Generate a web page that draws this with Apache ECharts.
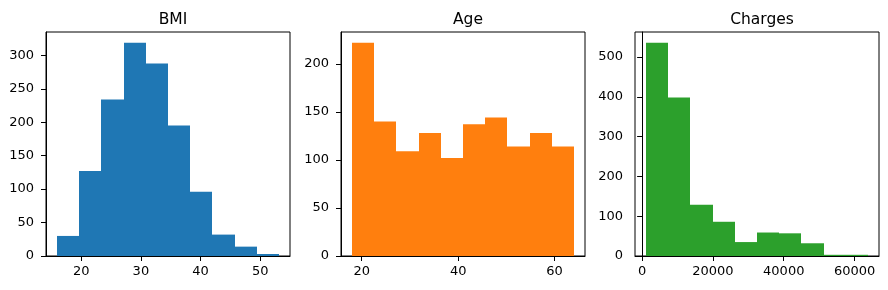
<!DOCTYPE html>
<html>
<head>
<meta charset="utf-8">
<script src="https://cdn.jsdelivr.net/npm/echarts@6/dist/echarts.min.js"></script>
<style>
html,body{margin:0;padding:0;background:#fff;}
#chart{width:888px;height:290px;}
</style>
</head>
<body>
<div id="chart"></div>
<script>
// ---- data ----
const titles = ['BMI', 'Age', 'Charges'];

const bmiEdges = [15.96, 19.677, 23.394, 27.111, 30.828, 34.545, 38.262, 41.979, 45.696, 49.413, 53.13];
const bmiCounts = [30, 127, 234, 319, 288, 195, 96, 32, 14, 3];

const ageEdges = [18, 22.6, 27.2, 31.8, 36.4, 41, 45.6, 50.2, 54.8, 59.4, 64];
const ageCounts = [222, 140, 109, 128, 102, 137, 144, 114, 128, 114];

const chargesEdges = [1121.87, 7386.73, 13651.58, 19916.44, 26181.30, 32446.15, 38711.01, 44975.87, 51240.72, 57505.58, 63770.43];
const chargesCounts = [536, 398, 129, 86, 35, 59, 57, 32, 3, 3];

const bmiXTicks = [20, 30, 40, 50];
const ageXTicks = [20, 40, 60];
const chargesXTicks = [0, 20000, 40000, 60000];

const bmiYTicks = [0, 50, 100, 150, 200, 250, 300];
const ageYTicks = [0, 50, 100, 150, 200];
const chargesYTicks = [0, 100, 200, 300, 400, 500];

const colors = ['#1f77b4', '#ff7f0e', '#2ca02c'];

// ---- build ----
const panels = [
  {edges: bmiEdges, counts: bmiCounts, xt: bmiXTicks, yt: bmiYTicks},
  {edges: ageEdges, counts: ageCounts, xt: ageXTicks, yt: ageYTicks},
  {edges: chargesEdges, counts: chargesCounts, xt: chargesXTicks, yt: chargesYTicks}
];
const gridLefts = [46, 341, 635];
const gridWidth = 244;
const FONT = 'DejaVu Sans';

const grids = [], xAxes = [], yAxes = [], series = [], titleArr = [];
panels.forEach((p, i) => {
  const lo = p.edges[0], hi = p.edges[p.edges.length - 1];
  const span = hi - lo;
  const ymax = Math.max(...p.counts) * 1.05;
  grids.push({left: gridLefts[i], top: 32, width: gridWidth, height: 224,
    show: true, borderColor: '#000', borderWidth: 1, backgroundColor: 'transparent'});
  titleArr.push({text: titles[i], left: gridLefts[i] + gridWidth / 2, textAlign: 'center', top: 7,
    textStyle: {fontFamily: FONT, fontSize: 15.5, fontWeight: 'normal', color: '#000'}});
  xAxes.push({type: 'value', gridIndex: i, min: lo - span * 0.05, max: hi + span * 0.05,
    axisLine: {show: true, onZero: false, lineStyle: {color: '#000', width: 1}},
    splitLine: {show: false},
    axisTick: {show: true, length: 5, lineStyle: {color: '#000'}, customValues: p.xt},
    axisLabel: {customValues: p.xt, margin: 9, fontFamily: FONT, fontSize: 13, color: '#000',
      formatter: v => String(v)}});
  yAxes.push({type: 'value', gridIndex: i, min: 0, max: ymax,
    axisLine: {show: true, lineStyle: {color: '#000', width: 1}},
    splitLine: {show: false},
    axisTick: {show: true, length: 5, lineStyle: {color: '#000'}, customValues: p.yt},
    axisLabel: {customValues: p.yt, margin: 12, fontFamily: FONT, fontSize: 13, color: '#000',
      formatter: v => String(v)}});
  const data = p.counts.map((c, k) => [p.edges[k], p.edges[k + 1], c]);
  series.push({type: 'custom', xAxisIndex: i, yAxisIndex: i, data: data,
    encode: {x: [0, 1], y: 2},
    renderItem: (params, api) => {
      const a = api.coord([api.value(0), 0]);
      const b = api.coord([api.value(1), api.value(2)]);
      const x0 = Math.round(a[0]), x1 = Math.round(b[0]);
      return {type: 'rect', shape: {x: x0, y: b[1], width: x1 - x0, height: a[1] - b[1]},
        style: {fill: colors[i], stroke: null}};
    }});
});

const chart = echarts.init(document.getElementById('chart'), null, {renderer: 'canvas'});
chart.setOption({
  animation: false,
  title: titleArr,
  grid: grids,
  xAxis: xAxes,
  yAxis: yAxes,
  series: series
});
</script>
</body>
</html>
